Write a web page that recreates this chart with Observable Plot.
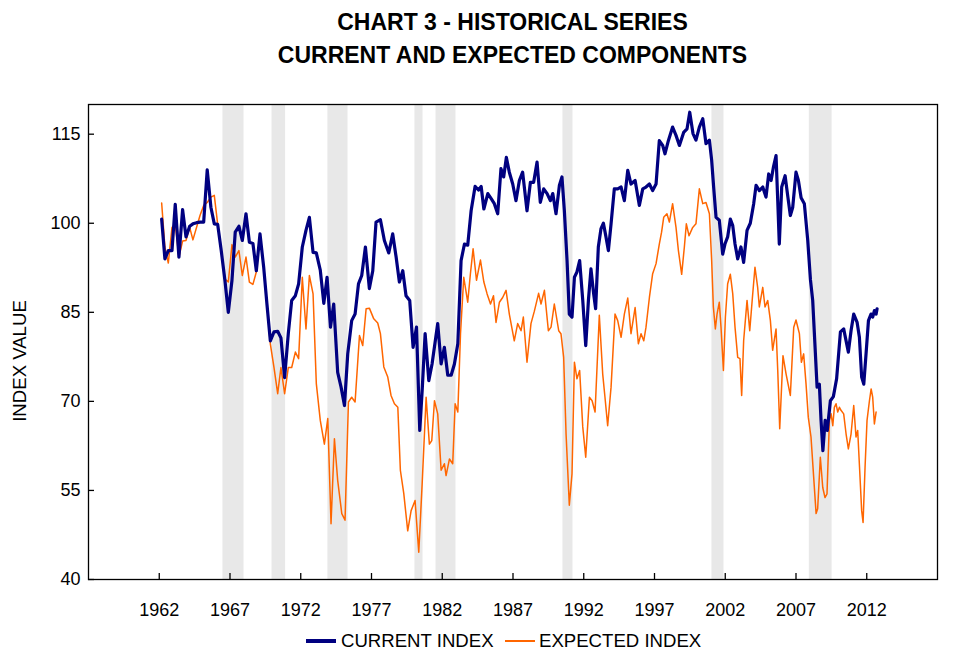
<!DOCTYPE html>
<html><head><meta charset="utf-8">
<script src="https://cdn.jsdelivr.net/npm/d3@7"></script>
<script src="https://cdn.jsdelivr.net/npm/@observablehq/plot@0.6"></script>
<style>
body{margin:0;background:#fff;font-family:"Liberation Sans",Arial,sans-serif;color:#000;}
#wrap{position:relative;width:957px;height:663px;overflow:hidden;}
#title{position:relative;height:90px;}
.tl{position:absolute;left:88px;width:849px;text-align:center;font-weight:bold;font-size:23px;line-height:23px;white-space:nowrap;}
#chart{height:530px;}
#legend{position:relative;height:43px;}
.lg{position:absolute;font-size:18.6px;line-height:18px;white-space:nowrap;}
.sw{position:absolute;width:30px;}
</style></head>
<body>
<div id="wrap">
  <div id="title">
    <div class="tl" style="top:11px">CHART 3 - HISTORICAL SERIES</div>
    <div class="tl" style="top:44px">CURRENT AND EXPECTED COMPONENTS</div>
  </div>
  <div id="chart"></div>
  <div id="legend"></div>
</div>
<script>
const seriesNames = ["CURRENT INDEX", "EXPECTED INDEX"];
const seriesColors = ["#000080", "#ff6600"];
const yTicks = [40, 55, 70, 85, 100, 115];
const xTicks = [1962, 1967, 1972, 1977, 1982, 1987, 1992, 1997, 2002, 2007, 2012];
const yAxisTitle = "INDEX VALUE";

// recession shading periods (decimal years)
const recessionStart = [1966.50, 1969.97, 1973.92, 1980.07, 1981.56, 1990.53, 2001.06, 2007.94];
const recessionEnd   = [1967.99, 1970.93, 1975.34, 1980.64, 1982.97, 1991.24, 2001.91, 2009.55];

// current index [decimal year, value]
const currentIndex = [
[1962.17,100.7],[1962.40,94.0],[1962.64,95.4],[1962.90,95.4],[1963.13,103.2],[1963.39,94.3],[1963.65,102.3],[1963.89,97.7],
[1964.15,99.5],[1964.38,99.9],[1964.64,100.1],[1964.88,100.2],[1965.14,100.2],[1965.39,109.0],[1965.65,102.7],[1965.89,99.9],
[1966.13,99.8],[1966.38,95.4],[1966.64,90.4],[1966.88,85.0],[1967.14,90.4],[1967.37,98.5],[1967.63,99.5],[1967.87,97.1],
[1968.13,101.6],[1968.37,96.8],[1968.62,96.6],[1968.86,92.0],[1969.12,98.2],[1969.38,92.6],[1969.61,86.4],[1969.85,80.2],
[1970.11,81.7],[1970.37,81.8],[1970.60,80.7],[1970.86,74.0],[1971.12,81.4],[1971.36,87.0],[1971.62,87.8],[1971.85,89.8],
[1972.11,96.0],[1972.37,98.8],[1972.61,101.0],[1972.87,95.1],[1973.10,95.0],[1973.38,92.1],[1973.63,86.5],[1973.86,90.9],
[1974.10,82.5],[1974.33,86.4],[1974.61,74.9],[1974.85,72.4],[1975.09,69.3],[1975.32,78.0],[1975.60,83.6],[1975.84,84.7],
[1976.08,89.8],[1976.31,91.2],[1976.57,96.0],[1976.85,89.0],[1977.09,92.0],[1977.32,100.2],[1977.63,100.6],[1977.91,97.1],
[1978.22,95.0],[1978.50,98.2],[1978.74,94.3],[1978.97,90.1],[1979.21,92.0],[1979.44,87.8],[1979.70,87.0],[1979.94,79.1],
[1980.18,82.5],[1980.41,65.1],[1980.58,71.8],[1980.79,81.4],[1981.05,73.5],[1981.28,76.3],[1981.68,83.1],[1981.92,76.3],
[1982.15,79.1],[1982.39,74.4],[1982.63,74.4],[1982.86,76.3],[1983.10,79.7],[1983.33,93.7],[1983.57,96.5],[1983.80,96.3],
[1984.04,102.1],[1984.32,106.2],[1984.56,105.6],[1984.75,106.2],[1984.94,102.4],[1985.22,105.0],[1985.47,104.1],[1985.68,103.3],
[1985.92,101.6],[1986.15,109.2],[1986.34,107.8],[1986.53,111.1],[1986.74,108.6],[1986.98,106.6],[1987.21,103.8],[1987.45,107.2],
[1987.68,108.6],[1987.99,102.1],[1988.23,106.9],[1988.46,106.9],[1988.70,110.3],[1988.93,103.5],[1989.17,105.8],[1989.41,105.0],
[1989.64,103.8],[1989.81,105.0],[1990.04,101.6],[1990.28,106.4],[1990.46,107.8],[1990.63,102.1],[1990.82,93.7],[1990.98,84.7],
[1991.17,84.2],[1991.34,90.9],[1991.52,91.8],[1991.71,93.7],[1991.93,87.0],[1992.14,79.4],[1992.33,87.0],[1992.51,92.3],
[1992.70,88.1],[1992.84,85.6],[1993.03,96.0],[1993.22,99.1],[1993.39,100.0],[1993.57,97.7],[1993.74,95.4],[1993.93,99.9],
[1994.16,105.8],[1994.40,105.8],[1994.64,106.1],[1994.87,103.8],[1995.11,108.9],[1995.34,106.6],[1995.63,107.2],[1995.93,103.0],
[1996.17,105.8],[1996.40,106.1],[1996.64,106.6],[1996.87,105.5],[1997.11,106.6],[1997.34,113.9],[1997.58,113.1],[1997.74,111.7],
[1997.98,113.9],[1998.28,116.2],[1998.52,114.8],[1998.76,113.1],[1999.06,115.3],[1999.30,115.9],[1999.49,118.7],[1999.72,115.1],
[1999.93,114.0],[2000.17,116.2],[2000.41,117.6],[2000.64,113.4],[2000.88,114.0],[2001.04,110.6],[2001.18,106.1],[2001.35,101.0],
[2001.58,100.5],[2001.82,94.8],[2001.98,96.5],[2002.17,97.7],[2002.36,100.7],[2002.53,99.6],[2002.69,96.5],[2002.88,94.0],
[2003.11,96.0],[2003.30,93.4],[2003.54,98.8],[2003.77,100.0],[2004.01,103.3],[2004.18,106.4],[2004.41,105.5],[2004.65,106.1],
[2004.88,104.4],[2005.07,108.3],[2005.24,107.2],[2005.40,109.4],[2005.59,111.4],[2005.71,103.8],[2005.82,96.5],[2005.99,106.1],
[2006.23,108.0],[2006.41,104.7],[2006.60,101.3],[2006.77,102.7],[2007.00,108.6],[2007.17,107.2],[2007.36,104.3],[2007.59,103.3],
[2007.83,97.1],[2008.02,90.5],[2008.18,87.0],[2008.35,79.0],[2008.49,72.4],[2008.65,72.9],[2008.77,66.8],[2008.90,61.7],
[2009.06,66.8],[2009.21,65.1],[2009.43,70.1],[2009.64,70.8],[2009.87,73.8],[2010.14,81.7],[2010.37,82.2],[2010.54,80.2],
[2010.70,78.3],[2010.89,81.9],[2011.08,84.7],[2011.32,83.3],[2011.48,80.8],[2011.64,74.1],[2011.79,72.9],[2011.95,78.0],
[2012.12,83.6],[2012.30,84.7],[2012.42,84.2],[2012.54,85.3],[2012.66,84.7],[2012.73,85.6]
];

// expected index [decimal year, value]
const expectedIndex = [
[1962.17,103.4],[1962.40,96.0],[1962.64,93.3],[1962.90,99.3],[1963.13,99.9],[1963.39,94.3],[1963.65,97.0],[1963.89,97.1],
[1964.15,99.3],[1964.38,97.2],[1964.88,101.3],[1965.14,103.0],[1965.39,103.5],[1965.65,104.4],[1965.89,104.7],[1966.13,99.8],
[1966.38,95.4],[1966.64,90.6],[1966.88,90.1],[1967.14,96.4],[1967.37,94.3],[1967.63,95.4],[1967.87,91.2],[1968.13,94.3],
[1968.37,90.1],[1968.62,89.7],[1968.86,91.8],[1969.12,98.2],[1969.38,92.6],[1969.61,86.4],[1969.85,79.7],[1970.11,75.7],
[1970.37,71.3],[1970.60,75.7],[1970.86,71.3],[1971.12,75.7],[1971.36,75.7],[1971.62,78.3],[1971.85,77.2],[1972.11,90.9],
[1972.37,82.2],[1972.61,91.2],[1972.87,88.1],[1973.10,73.0],[1973.38,66.8],[1973.67,62.8],[1973.91,67.1],[1974.14,49.4],
[1974.38,63.7],[1974.61,56.7],[1974.90,51.1],[1975.13,50.0],[1975.37,69.9],[1975.60,70.7],[1975.84,69.9],[1976.15,81.1],
[1976.38,79.4],[1976.62,85.6],[1976.85,85.7],[1977.16,83.9],[1977.44,83.2],[1977.63,81.4],[1977.87,75.8],[1978.15,74.1],
[1978.38,71.0],[1978.62,69.6],[1978.86,69.0],[1979.04,58.4],[1979.28,54.5],[1979.56,48.2],[1979.80,51.6],[1980.08,53.3],
[1980.34,44.6],[1980.58,56.1],[1980.86,70.7],[1981.09,62.8],[1981.26,63.4],[1981.45,70.1],[1981.68,67.9],[1981.92,58.4],
[1982.15,59.5],[1982.27,57.5],[1982.51,60.3],[1982.74,59.5],[1982.91,69.6],[1983.10,68.2],[1983.29,81.4],[1983.52,90.9],
[1983.80,86.7],[1983.99,91.5],[1984.18,95.7],[1984.42,90.4],[1984.70,93.8],[1984.94,90.1],[1985.17,88.1],[1985.41,86.4],
[1985.62,87.8],[1985.80,83.3],[1986.04,86.7],[1986.27,87.5],[1986.51,88.7],[1986.74,84.7],[1987.09,80.2],[1987.33,83.1],
[1987.57,81.9],[1987.73,84.2],[1987.99,76.6],[1988.27,83.1],[1988.51,85.2],[1988.81,88.2],[1988.98,86.4],[1989.22,88.7],
[1989.50,81.9],[1989.69,82.5],[1989.92,86.4],[1990.23,81.9],[1990.39,81.4],[1990.58,77.4],[1990.75,64.5],[1990.98,52.5],
[1991.17,57.8],[1991.34,76.6],[1991.52,73.8],[1991.71,75.2],[1991.93,65.7],[1992.14,60.6],[1992.40,70.7],[1992.59,70.1],
[1992.80,68.2],[1993.10,84.5],[1993.34,74.6],[1993.50,70.7],[1993.69,65.9],[1993.93,72.4],[1994.21,84.7],[1994.40,83.6],
[1994.64,80.8],[1994.87,84.7],[1995.11,87.4],[1995.34,81.4],[1995.63,85.8],[1995.86,79.7],[1996.05,81.4],[1996.24,80.2],
[1996.40,82.5],[1996.64,87.5],[1996.87,91.5],[1997.11,93.2],[1997.34,96.5],[1997.50,98.5],[1997.65,101.0],[1997.88,101.6],
[1998.05,100.2],[1998.28,103.3],[1998.52,99.3],[1998.69,95.4],[1998.92,91.4],[1999.11,96.0],[1999.25,99.9],[1999.44,97.9],
[1999.70,99.3],[1999.93,99.9],[2000.17,105.8],[2000.41,103.3],[2000.64,103.5],[2000.88,101.6],[2001.04,93.7],[2001.16,85.9],
[2001.30,82.2],[2001.42,84.7],[2001.58,86.7],[2001.70,82.5],[2001.87,75.2],[2002.01,84.2],[2002.17,89.8],[2002.36,91.4],
[2002.53,88.1],[2002.69,82.5],[2002.88,77.4],[2003.04,77.2],[2003.16,71.0],[2003.30,80.2],[2003.54,87.0],[2003.73,81.9],
[2003.92,87.5],[2004.10,92.6],[2004.29,89.2],[2004.41,85.9],[2004.65,89.2],[2004.81,85.9],[2005.00,87.0],[2005.19,83.6],
[2005.35,78.6],[2005.59,82.2],[2005.71,75.2],[2005.85,65.4],[2006.08,77.7],[2006.30,74.6],[2006.60,71.0],[2006.84,82.5],
[2007.00,83.7],[2007.24,81.4],[2007.38,76.6],[2007.54,78.0],[2007.71,72.9],[2007.87,67.3],[2008.06,64.0],[2008.25,57.2],
[2008.42,51.1],[2008.53,51.9],[2008.72,60.6],[2008.89,55.5],[2009.05,53.8],[2009.19,54.4],[2009.36,66.8],[2009.48,67.9],
[2009.60,65.9],[2009.71,69.0],[2009.83,69.6],[2009.95,68.2],[2010.07,69.0],[2010.18,68.5],[2010.37,67.9],[2010.54,64.5],
[2010.70,62.0],[2010.89,64.5],[2011.08,69.3],[2011.24,64.0],[2011.36,65.1],[2011.50,58.4],[2011.64,51.6],[2011.74,49.6],
[2011.88,58.9],[2012.02,66.8],[2012.19,70.1],[2012.31,72.1],[2012.42,70.7],[2012.54,66.2],[2012.66,68.2]
];

const recessions = recessionStart.map((s, i) => ({start: s, end: recessionEnd[i]}));
const W = 957, H = 530, mL = 88, mR = 20, mT = 14, mB = 41;
const plotW = W - mL - mR, plotH = H - mT - mB;

const chart = Plot.plot({
  width: W, height: H,
  marginLeft: mL, marginRight: mR, marginTop: mT, marginBottom: mB,
  style: {fontFamily: "'Liberation Sans', Arial, sans-serif", fontSize: "18px", color: "#000", background: "#fff", overflow: "visible"},
  x: {domain: [1957, 2017]},
  y: {domain: [40, 120]},
  marks: [
    Plot.rect(recessions, {x1: "start", x2: "end", fill: "#e8e8e8"}),
    Plot.line(expectedIndex, {x: d => d[0], y: d => d[1], stroke: seriesColors[1], strokeWidth: 1.5, strokeLinejoin: "round"}),
    Plot.line(currentIndex, {x: d => d[0], y: d => d[1], stroke: seriesColors[0], strokeWidth: 3.2, strokeLinejoin: "round"}),
    Plot.ruleX(xTicks, {x: d => d, insetTop: plotH - 6, stroke: "#000", strokeWidth: 1.3}),
    Plot.ruleY(yTicks, {y: d => d, insetRight: plotW - 6, stroke: "#000", strokeWidth: 1.3}),
    Plot.axisX(xTicks, {tickSize: 0, tickPadding: 24, tickFormat: d => String(d), label: null, fontSize: 18}),
    Plot.axisY(yTicks, {tickSize: 0, tickPadding: 8, tickFormat: d => String(d), label: null, fontSize: 18}),
    Plot.text([yAxisTitle], {frameAnchor: "left", textAnchor: "middle", dx: -68, dy: 19, rotate: -90, fontSize: 18.6, text: d => d}),
    Plot.frame({stroke: "#000", strokeWidth: 1.3})
  ]
});
document.getElementById("chart").appendChild(chart);

// legend
const legend = document.getElementById("legend");
const legendItems = [
  {name: seriesNames[0], color: seriesColors[0], width: 4, swX: 306, txX: 341},
  {name: seriesNames[1], color: seriesColors[1], width: 1.5, swX: 505, txX: 539}
];
for (const it of legendItems) {
  const sw = document.createElement("div");
  sw.className = "sw";
  sw.style.left = it.swX + "px";
  sw.style.top = (21 - it.width / 2) + "px";
  sw.style.height = it.width + "px";
  sw.style.background = it.color;
  legend.appendChild(sw);
  const tx = document.createElement("div");
  tx.className = "lg";
  tx.style.left = it.txX + "px";
  tx.style.top = "12px";
  tx.textContent = it.name;
  legend.appendChild(tx);
}
</script>
</body></html>
